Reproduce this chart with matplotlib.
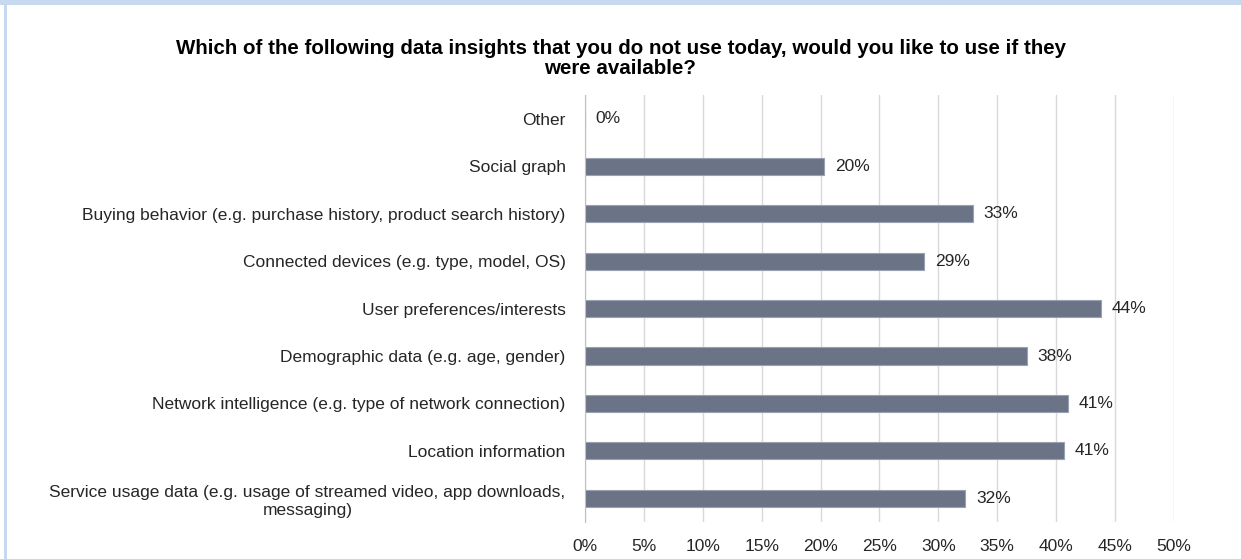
import matplotlib.pyplot as plt
from matplotlib.patches import Rectangle

# Survey categories (bottom to top) and share of respondents (%)
categories = [
    "Service usage data (e.g. usage of streamed video, app downloads,\nmessaging)",
    "Location information",
    "Network intelligence (e.g. type of network connection)",
    "Demographic data (e.g. age, gender)",
    "User preferences/interests",
    "Connected devices (e.g. type, model, OS)",
    "Buying behavior (e.g. purchase history, product search history)",
    "Social graph",
    "Other",
]
values = [32.3, 40.7, 41.0, 37.5, 43.8, 28.8, 32.9, 20.3, 0.0]
value_labels = ["32%", "41%", "41%", "38%", "44%", "29%", "33%", "20%", "0%"]
x_ticks = [0, 5, 10, 15, 20, 25, 30, 35, 40, 45, 50]

plt.rcParams['font.family'] = ['Liberation Sans', 'DejaVu Sans']

fig = plt.figure(figsize=(12.41, 5.59), dpi=100)

# light blue frame pieces from the source document
fig.patches.append(Rectangle((0, 0.991), 1, 0.009, transform=fig.transFigure,
                             facecolor='#c6d9f0', edgecolor='none'))
fig.patches.append(Rectangle((0.0035, 0), 0.0018, 0.991, transform=fig.transFigure,
                             facecolor='#c6d9f0', edgecolor='none'))

ax = fig.add_axes([0.4714, 0.066, 0.4746, 0.764])

ax.barh(range(len(categories)), values, height=0.36, color='#6b7386',
        edgecolor='#9aa1b0', linewidth=0.8, zorder=3)

for i, (v, lab) in enumerate(zip(values, value_labels)):
    ax.text(v + 0.9, i, lab, va='center', ha='left', fontsize=12.5, color='#262626')

ax.set_xlim(0, 50)
ax.set_ylim(-0.5, len(categories) - 0.5)
ax.set_xticks(x_ticks)
ax.set_xticklabels([f"{t}%" for t in x_ticks], fontsize=12.5, color='#262626')
ax.set_yticks(range(len(categories)))
ax.set_yticklabels(categories, fontsize=12.5, color='#262626', linespacing=1.25)
for lbl in ax.get_yticklabels():
    lbl.set_multialignment('center')

ax.tick_params(axis='both', length=0)
ax.tick_params(axis='x', pad=12)
ax.tick_params(axis='y', pad=14)
ax.grid(axis='x', color='#d9d9d9', linewidth=1.0, zorder=0)
for s in ['top', 'right', 'bottom']:
    ax.spines[s].set_visible(False)
ax.spines['left'].set_color('#bfbfbf')
ax.spines['left'].set_zorder(4)

fig.text(0.5, 0.895, "Which of the following data insights that you do not use today, would you like to use if they\nwere available?",
         ha='center', va='center', fontsize=14.8, fontweight='bold', color='black', linespacing=1.05)

plt.savefig('out.png', dpi=100)
